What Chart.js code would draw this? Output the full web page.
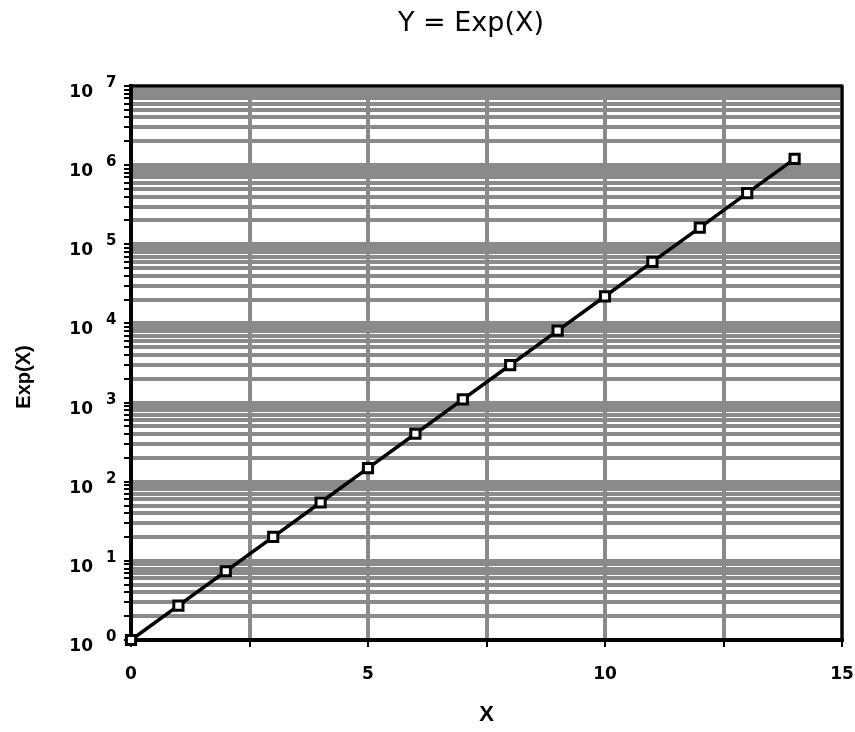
<!DOCTYPE html>
<html><head><meta charset="utf-8">
<script src="https://cdn.jsdelivr.net/npm/chart.js@4/dist/chart.umd.min.js"></script>
<style>html,body{margin:0;padding:0;background:#fff}#wrap{width:855px;height:732px}</style>
</head><body><div id="wrap"><canvas id="c" width="855" height="732"></canvas></div>
<script>
const chartTitle = 'Y = Exp(X)';
const xAxisTitle = 'X';
const yAxisTitle = 'Exp(X)';
const xValues = [0, 1, 2, 3, 4, 5, 6, 7, 8, 9, 10, 11, 12, 13, 14];
const yValues = [1, 2.718, 7.389, 20.09, 54.60, 148.4, 403.4, 1097, 2981, 8103, 22026, 59874, 162755, 442413, 1202604];
const xTickLabels = [0, 5, 10, 15];
const xTickStep = 2.5;
const yDecadeExponents = [0, 1, 2, 3, 4, 5, 6, 7];
const yMinorMultipliers = [1, 2, 3, 4, 5, 6, 7, 8, 9];

const points = xValues.map((x, i) => ({x: x, y: yValues[i]}));
const yTickValues = [];
yDecadeExponents.forEach((e, i) => {
  if (i === yDecadeExponents.length - 1) yTickValues.push(Math.pow(10, e));
  else yMinorMultipliers.forEach(m => yTickValues.push(m * Math.pow(10, e)));
});

const decor = {
  id: 'decor',
  afterDraw(chart) {
    const ctx = chart.ctx, a = chart.chartArea, y = chart.scales.y;
    ctx.save();
    ctx.strokeStyle = '#000'; ctx.lineWidth = 3;
    ctx.beginPath(); ctx.moveTo(a.left, a.top); ctx.lineTo(a.right, a.top); ctx.lineTo(a.right, a.bottom); ctx.stroke();
    ctx.fillStyle = '#000';
    ctx.font = '27px "DejaVu Sans"'; ctx.textAlign = 'center'; ctx.textBaseline = 'middle';
    ctx.fillText(chartTitle, 471, 24);
    yDecadeExponents.forEach(e => {
      const py = y.getPixelForValue(Math.pow(10, e));
      ctx.font = 'bold 17px "DejaVu Sans"'; ctx.textAlign = 'right'; ctx.textBaseline = 'alphabetic';
      ctx.fillText('10', 93, py + 11);
      ctx.font = 'bold 15px "DejaVu Sans"'; ctx.textAlign = 'left';
      ctx.fillText(String(e), 106, py + 1);
    });
    ctx.translate(24, 377); ctx.rotate(-Math.PI / 2);
    ctx.font = 'bold 20px "Liberation Sans"'; ctx.textAlign = 'center'; ctx.textBaseline = 'middle';
    ctx.fillText(yAxisTitle, 0, 0);
    ctx.restore();
  }
};

new Chart(document.getElementById('c'), {
  type: 'scatter',
  data: { datasets: [{
    data: points, showLine: true, clip: false,
    borderColor: '#000', borderWidth: 3.5,
    pointStyle: 'rect', pointRadius: 6.5, pointHoverRadius: 6.5,
    pointBackgroundColor: '#fff', pointBorderColor: '#000', pointBorderWidth: 3
  }]},
  options: {
    responsive: false, animation: false,
    layout: { padding: { top: 86, right: 13, left: 0, bottom: 0 } },
    plugins: { legend: { display: false }, title: { display: false }, tooltip: { enabled: false } },
    scales: {
      x: {
        type: 'linear', min: 0, max: 15,
        ticks: { stepSize: xTickStep, autoSkip: false, maxRotation: 0,
          callback: v => xTickLabels.includes(v) ? String(v) : '',
          color: '#000', font: { family: 'DejaVu Sans', size: 17, weight: 'bold' }, padding: 17 },
        grid: { color: '#8a8a8a', lineWidth: 4, tickColor: '#000', tickWidth: 2, tickLength: 7 },
        border: { color: '#000', width: 4 },
        title: { display: true, text: xAxisTitle, color: '#000',
          font: { family: 'Liberation Sans', size: 22, weight: 'bold' }, padding: { top: 0, bottom: 4 } },
        afterFit: s => { s.height = 92; s.paddingLeft = 0; s.paddingRight = 0; }
      },
      y: {
        type: 'logarithmic', min: 1, max: 1e7,
        afterBuildTicks: s => { s.ticks = yTickValues.map(v => ({ value: v })); },
        ticks: { display: false },
        grid: { color: '#8a8a8a', lineWidth: 4, tickColor: '#000', tickWidth: 2, tickLength: 7 },
        border: { color: '#000', width: 4 },
        afterFit: s => { s.width = 131; s.paddingTop = 0; s.paddingBottom = 0; }
      }
    }
  },
  plugins: [decor]
});
</script></body></html>
